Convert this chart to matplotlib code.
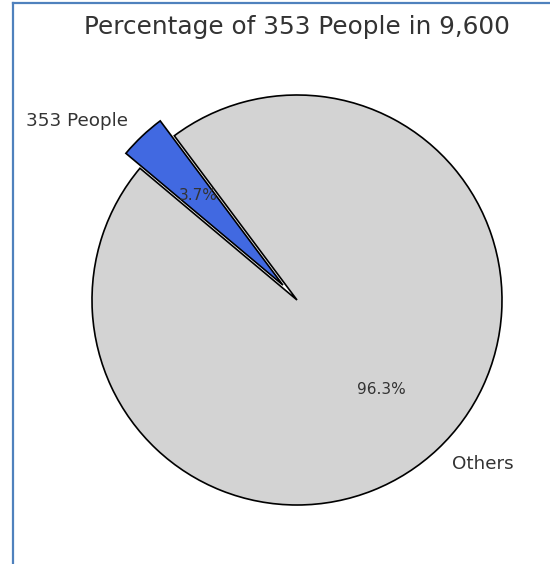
import matplotlib
matplotlib.use("Agg")
import matplotlib.pyplot as plt
from matplotlib.lines import Line2D

labels = ["353 People", "Others"]
values = [353, 9600 - 353]
colors = ["#4169E1", "#D3D3D3"]
explode = [0.1, 0.0]
title = "Percentage of 353 People in 9,600"

fig = plt.figure(figsize=(5.5, 5.64), dpi=100)
W, H = 550, 564
cx, cy, r = 297, 300, 205
side = 2.5 * r
ax = fig.add_axes([(cx - 1.25 * r) / W, (H - cy - 1.25 * r) / H, side / W, side / H])

wedges, texts, autotexts = ax.pie(
    values, labels=labels, colors=colors, explode=explode,
    startangle=140, counterclock=False, autopct="%1.1f%%",
    wedgeprops=dict(edgecolor="black", linewidth=1.2),
    textprops=dict(color="#333333", fontsize=13.2),
)
for t in autotexts:
    t.set_fontsize(11)
ax.set_xlim(-1.25, 1.25)
ax.set_ylim(-1.25, 1.25)
ax.set_aspect("equal")

fig.text(297 / W, 1 - 27 / H, title, ha="center", va="center",
         fontsize=17.8, color="#333333")

# frame lines (left and top)
fig.add_artist(Line2D([13 / W, 13 / W], [0, 1 - 3 / H], transform=fig.transFigure,
                      color="#4F81BD", linewidth=1.6))
fig.add_artist(Line2D([13 / W, 1], [1 - 3 / H, 1 - 3 / H], transform=fig.transFigure,
                      color="#4F81BD", linewidth=1.6))

fig.savefig("out.png", dpi=100)
